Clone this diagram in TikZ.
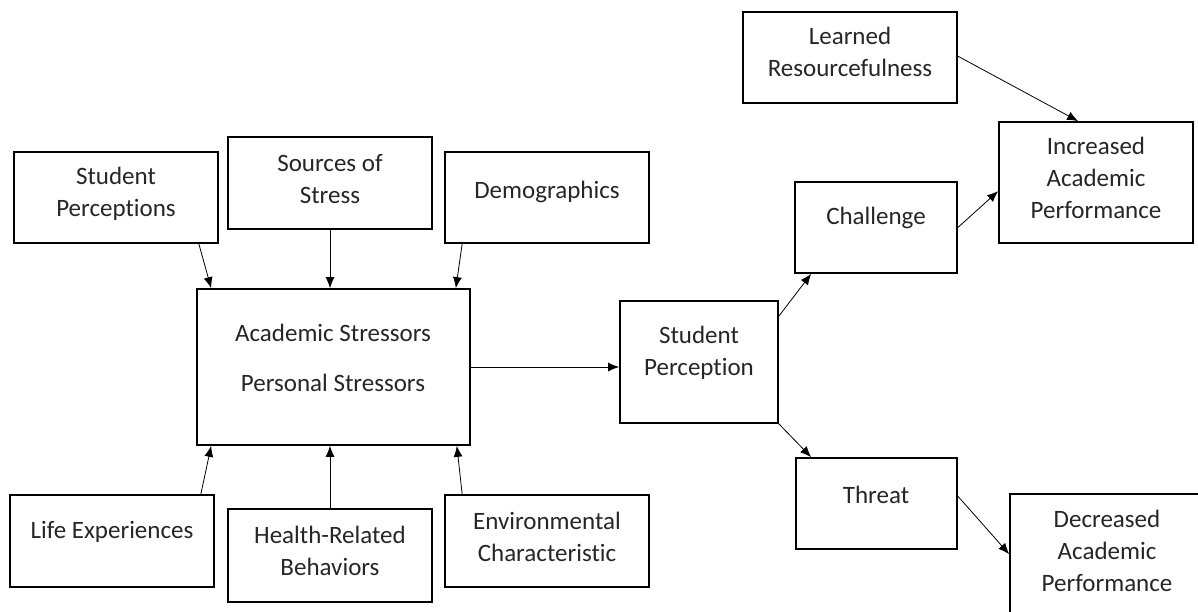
\documentclass[tikz,border=0pt]{standalone}
\usepackage{fontspec}
\setmainfont{Carlito}[Ligatures=NoCommon]
\usetikzlibrary{arrows.meta,fit}
\definecolor{textgray}{HTML}{262626}

\begin{document}
\begin{tikzpicture}[x=1pt,y=-1pt]
  % Estilos de cajas, textos y flechas
  \tikzset{
    box_node/.style={draw,line width=1.7pt,inner sep=0pt},
    text_node/.style={align=center,text=textgray,font=\fontsize{25}{32}\selectfont},
    arrow_line/.style={-{Latex[length=11pt,width=9pt]},line width=0.8pt}
  }

  \useasboundingbox (0,0) rectangle (1198,611);
  \fill[white] (0,0) rectangle (1198,611);
  \clip (0,0) rectangle (1198,611);

  % Factores superiores
  \node[box_node,fit={(14,152) (218,243)}] (stuperc) {};
  \node[box_node,fit={(228,137) (432,229)}] (sources) {};
  \node[box_node,fit={(445,152) (649,243)}] (demog) {};
  \node[text_node] (stupercT) at (116,194) {Student\\Perceptions};
  \node[text_node] (sourcesT) at (330,179) {Sources of\\Stress};
  \node[text_node] (demogT) at (547,192) {Demographics};

  % Caja central de estresores
  \node[box_node,fit={(197,289) (470,445)}] (stressors) {};
  \node[text_node] (stressorsT) at (333,358) {Academic Stressors\\[18pt]Personal Stressors};

  % Factores inferiores
  \node[box_node,fit={(10,495) (214,587)}] (life) {};
  \node[box_node,fit={(228,509) (432,602)}] (health) {};
  \node[box_node,fit={(445,495) (649,587)}] (environ) {};
  \node[text_node] (lifeT) at (112,532) {Life Experiences};
  \node[text_node] (healthT) at (330,551) {Health-Related\\Behaviors};
  \node[text_node] (environT) at (547,537) {Environmental\\Characteristic};

  % Percepcion y resultados
  \node[box_node,fit={(620,301) (778,423)}] (perception) {};
  \node[box_node,fit={(795,182) (957,273)}] (challenge) {};
  \node[box_node,fit={(796,458) (957,549)}] (threat) {};
  \node[box_node,fit={(743,12) (957,103)}] (learned) {};
  \node[box_node,fit={(999,122) (1193,243)}] (increased) {};
  \node[box_node,fit={(1010,494) (1204,616)}] (decreased) {};
  \node[text_node] (perceptionT) at (699,353) {Student\\Perception};
  \node[text_node] (challengeT) at (876,218) {Challenge};
  \node[text_node] (threatT) at (876,495) {Threat};
  \node[text_node] (learnedT) at (850,52) {Learned\\Resourcefulness};
  \node[text_node] (increasedT) at (1096,178) {Increased\\Academic\\Performance};
  \node[text_node] (decreasedT) at (1107,551) {Decreased\\Academic\\Performance};

  % Flechas hacia la caja central
  \draw[arrow_line] ([xshift=-20pt]stuperc.south east) -- ([xshift=15pt]stressors.north west);
  \draw[arrow_line] (sources.south) -- (sources.south |- stressors.north);
  \draw[arrow_line] ([xshift=18pt]demog.south west) -- ([xshift=-15pt]stressors.north east);
  \draw[arrow_line] ([xshift=-14pt]life.north east) -- ([xshift=15pt]stressors.south west);
  \draw[arrow_line] (health.north) -- (health.north |- stressors.south);
  \draw[arrow_line] ([xshift=18pt]environ.north west) -- ([xshift=-14pt]stressors.south east);

  % Flechas del modelo
  \draw[arrow_line] (stressors.east) -- (stressors.east -| perception.west);
  \draw[arrow_line] ([yshift=-16pt]perception.north east) -- ([xshift=17pt]challenge.south west);
  \draw[arrow_line] (perception.south east) -- ([xshift=16pt]threat.north west);
  \draw[arrow_line] (challenge.east) -- ([yshift=-70pt]increased.north west);
  \draw[arrow_line] ([yshift=-45pt]learned.north east) -- ([xshift=80pt]increased.north west);
  \draw[arrow_line] ([yshift=-39pt]threat.north east) -- ([yshift=-61pt]decreased.north west);
\end{tikzpicture}
\end{document}
